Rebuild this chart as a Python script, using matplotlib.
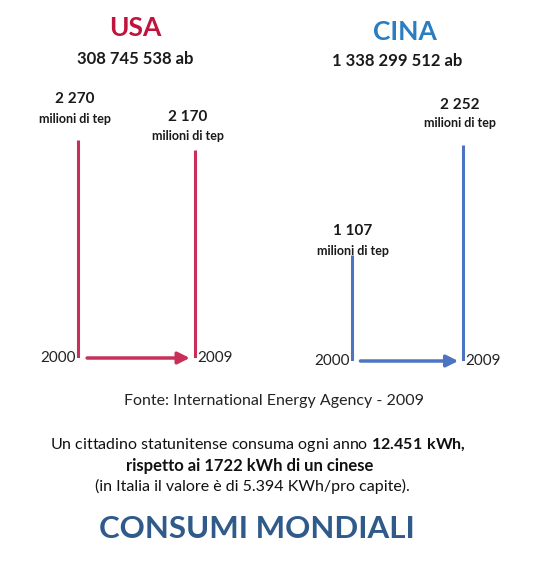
import matplotlib.pyplot as plt

plt.rcParams['font.family'] = ['Lato', 'DejaVu Sans']
plt.rcParams['mathtext.fontset'] = 'custom'
plt.rcParams['mathtext.rm'] = 'Lato'
plt.rcParams['mathtext.bf'] = 'Lato:bold'

# data
countries = ["USA", "CINA"]
population = ["308 745 538 ab", "1 338 299 512 ab"]
years = [2000, 2009]
consumo_usa = [2270, 2170]
consumo_cina = [1107, 2252]
label_usa = ["2 270", "2 170"]
label_cina = ["1 107", "2 252"]
unit = "milioni di tep"

red = "#C8305A"
blue = "#4C74C0"
title_red = "#C0143C"
title_blue = "#2A7DC0"

W, H = 540, 566
fig = plt.figure(figsize=(W / 100, H / 100), dpi=100)
fig.patch.set_facecolor("white")


def px_axes(x0, x1, y_top, y_bot):
    return fig.add_axes([x0 / W, 1 - y_bot / H, (x1 - x0) / W, (y_bot - y_top) / H])


# (axes left px, axes right px, bottom px, label offsets (dx, dy number, dy unit) per bar)
layout = [
    (52, 221, 358, [(-3, 41, 21), (-7, 33, 14)], red, consumo_usa, label_usa),
    (327, 488, 361, [(1, 24, 4), (-3, 40, 22)], blue, consumo_cina, label_cina),
]

for (x0, x1, ybot, offs, col, vals, labs) in layout:
    ax = px_axes(x0, x1, ybot - 240, ybot)
    ax.set_xlim(1998, 2011)
    ax.set_ylim(0, 2500)
    ax.axis("off")
    for yr, v, lab, (dx, dn, du) in zip(years, vals, labs, offs):
        ax.plot([yr, yr], [0, v], color=col, lw=2.2, solid_capstyle="butt")
        ax.annotate(lab, (yr, v), xytext=(dx, dn), textcoords="offset pixels",
                    ha="center", va="center", fontsize=11, fontweight="bold", color="#1a1a1a")
        ax.annotate(unit, (yr, v), xytext=(dx, du), textcoords="offset pixels",
                    ha="center", va="center", fontsize=9, fontweight="bold", color="#1a1a1a")
    ax.annotate("", xy=(years[1] - 0.4, 0), xytext=(years[0] + 0.7, 0),
                arrowprops=dict(arrowstyle="-|>,head_length=0.7,head_width=0.35",
                                color=col, lw=2.5, shrinkA=0, shrinkB=0))
    ax.annotate(str(years[0]), (years[0], 0), xytext=(-2, 0), textcoords="offset pixels",
                ha="right", va="center", fontsize=11, color="#222222")
    ax.annotate(str(years[1]), (years[1], 0), xytext=(2, 0), textcoords="offset pixels",
                ha="left", va="center", fontsize=11, color="#222222")

# titles
fig.text(135 / W, 1 - 28 / H, countries[0], ha="center", va="center",
         fontsize=19, fontweight="bold", color=title_red)
fig.text(135 / W, 1 - 59 / H, population[0], ha="center", va="center",
         fontsize=12, fontweight="bold", color="#1a1a1a")
fig.text(405 / W, 1 - 32 / H, countries[1], ha="center", va="center",
         fontsize=19, fontweight="bold", color=title_blue)
fig.text(397 / W, 1 - 61 / H, population[1], ha="center", va="center",
         fontsize=12, fontweight="bold", color="#1a1a1a")

# bottom text
fig.text(274 / W, 1 - 401 / H, "Fonte: International Energy Agency - 2009",
         ha="center", va="center", fontsize=11.5, color="#222222")
fig.text(258 / W, 1 - 445 / H,
         r"Un cittadino statunitense consuma ogni anno $\mathbf{12.451\ kWh,}$",
         ha="center", va="center", fontsize=11.5, color="#111111")
fig.text(250 / W, 1 - 466 / H, "rispetto ai 1722 kWh di un cinese",
         ha="center", va="center", fontsize=12, fontweight="bold", color="#111111")
fig.text(252 / W, 1 - 486 / H, "(in Italia il valore è di 5.394 KWh/pro capite).",
         ha="center", va="center", fontsize=11.5, color="#111111")
fig.text(257 / W, 1 - 529 / H, "CONSUMI MONDIALI", ha="center", va="center",
         fontsize=22.5, fontweight="bold", color="#2F5A8A")

fig.savefig("out.png", dpi=100)
